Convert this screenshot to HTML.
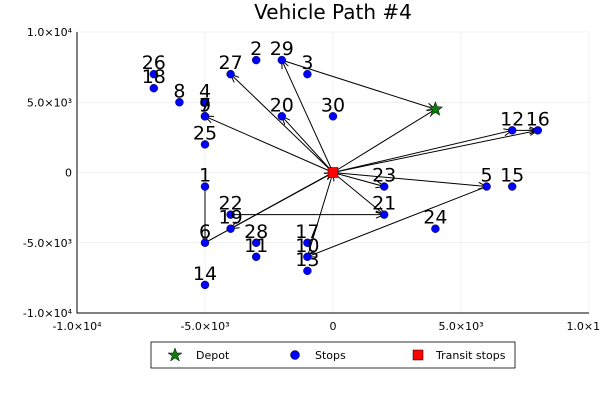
<!DOCTYPE html>
<html><head><meta charset="utf-8"><style>
body{margin:0;background:#fff}
svg{display:block;font-family:"DejaVu Sans","Liberation Sans",sans-serif}
</style></head><body>
<svg id="chart" width="600" height="400" viewBox="0 0 600 400">
<rect width="600" height="400" fill="#fff"/>
<text x="333" y="19" font-size="20" text-anchor="middle">Vehicle Path #4</text>
<g id="grid"></g><g id="axes"></g><g id="edges"></g><g id="marks"></g><g id="labels"></g>
<g>
<rect x="151" y="342" width="364" height="26" fill="#fff" stroke="#000" stroke-width="0.8"/>
<polygon points="175,348 176.8,353 182,353 177.8,356 179.4,361 175,358 170.6,361 172.2,356 168,353 173.2,353" fill="#0a7d0a" stroke="#000" stroke-width="0.5"/>
<text x="196" y="359" font-size="11">Depot</text>
<circle cx="295" cy="355" r="4.5" fill="#0000ff" stroke="#000" stroke-width="0.5"/>
<text x="315" y="359" font-size="11">Stops</text>
<rect x="413" y="350" width="10" height="10" fill="#ff0000" stroke="#000" stroke-width="0.5"/>
<text x="436" y="359" font-size="11">Transit stops</text>
</g>
</svg>
<script>
const stopIds=[1,2,3,4,5,6,7,8,9,10,11,12,13,14,15,16,17,18,19,20,21,22,23,24,25,26,27,28,29,30];
const stopX=[-5000,-3000,-1000,-5000,6000,-5000,-5000,-6000,-5000,-1000,-3000,7000,-1000,-5000,7000,8000,-1000,-7000,-4000,-2000,2000,-4000,2000,4000,-5000,-7000,-4000,-3000,-2000,0];
const stopY=[-1000,8000,7000,5000,-1000,-5000,4000,5000,4000,-6000,-6000,3000,-7000,-8000,-1000,3000,-5000,6000,-4000,4000,-3000,-3000,-1000,-4000,2000,7000,7000,-5000,8000,4000];
const depot=[4000,4500];
const transit=[0,0];
const edgeFrom=["T","29","T","T","T","T","1","6","T","19","22","T","T","T","5","10","T","12","T"];
const edgeTo=["29","D","D","27","20","9","6","T","19","T","21","23","21","5","10","T","12","16","16"];
const xTicks=[-10000,-5000,0,5000,10000];
const xTickLabels=["−1.0×10⁴","−5.0×10³","0","5.0×10³","1.0×10⁴"];
const yTicks=[-10000,-5000,0,5000,10000];
const yTickLabels=["−1.0×10⁴","−5.0×10³","0","5.0×10³","1.0×10⁴"];
const NS="http://www.w3.org/2000/svg";
const X0=77,X1=589,Y0=313,Y1=32;
const sx=v=>X0+(v+10000)/20000*(X1-X0);
const sy=v=>Y0-(v+10000)/20000*(Y0-Y1);
function mk(tag,attrs,parent){const e=document.createElementNS(NS,tag);for(const k in attrs)e.setAttribute(k,attrs[k]);document.getElementById(parent).appendChild(e);return e;}
xTicks.forEach((t,i)=>{
 let g=mk('line',{x1:sx(t),x2:sx(t),y1:Y1,y2:Y0,stroke:'#000','stroke-opacity':0.1,'stroke-width':0.5},'grid');
 
 
 let tx=mk('text',{x:sx(t),y:Y0+17,'font-size':11,'text-anchor':'middle'},'axes');
 tx.textContent=xTickLabels[i].replace('−','-');
 
 
});
yTicks.forEach((t,i)=>{
 let g=mk('line',{x1:X0,x2:X1,y1:sy(t),y2:sy(t),stroke:'#000','stroke-opacity':0.1,'stroke-width':0.5},'grid');
 
 
 let tx=mk('text',{x:X0-5,y:sy(t)+4,'font-size':11,'text-anchor':'end'},'axes');
 tx.textContent=yTickLabels[i].replace('−','-');
 
 
});
let ax=mk('path',{d:`M${X0},${Y1}V${Y0}H${X1}`,fill:'none',stroke:'#000','stroke-width':1},'axes');


function pos(id){if(id==='T')return transit;if(id==='D')return depot;const i=stopIds.indexOf(+id);return [stopX[i],stopY[i]];}
edgeFrom.forEach((f,i)=>{
 const a=pos(f),b=pos(edgeTo[i]);
 const x1=sx(a[0]),y1=sy(a[1]),x2=sx(b[0]),y2=sy(b[1]);
 const ang=Math.atan2(y2-y1,x2-x1),L=9,w=0.4;
 const d=`M${x1},${y1}L${x2},${y2}M${x2-L*Math.cos(ang-w)},${y2-L*Math.sin(ang-w)}L${x2},${y2}L${x2-L*Math.cos(ang+w)},${y2-L*Math.sin(ang+w)}`;
 let p=mk('path',{d:d,fill:'none',stroke:'#000','stroke-width':1},'edges');
 
 
});
stopIds.forEach((id,i)=>{
 let c=mk('circle',{cx:sx(stopX[i]),cy:sy(stopY[i]),r:4,fill:'#0000ff',stroke:'#000','stroke-width':0.4},'marks');
 
 
 let t=mk('text',{x:sx(stopX[i]),y:sy(stopY[i])-5,'font-size':19,'text-anchor':'middle'},'labels');
 t.textContent=id;
 
 
});
{const cx=sx(depot[0]),cy=sy(depot[1]);let pts=[];for(let k=0;k<10;k++){const r=k%2?3.2:7.5,a=-Math.PI/2+k*Math.PI/5;pts.push((cx+r*Math.cos(a)).toFixed(1)+','+(cy+r*Math.sin(a)).toFixed(1));}
let s=mk('polygon',{points:pts.join(' '),fill:'#0a7d0a',stroke:'#000','stroke-width':0.5},'marks');

}
{let r=mk('rect',{x:sx(transit[0])-5,y:sy(transit[1])-5,width:10,height:10,fill:'#ff0000',stroke:'#000','stroke-width':0.5},'marks');

}
</script>
</body></html>
